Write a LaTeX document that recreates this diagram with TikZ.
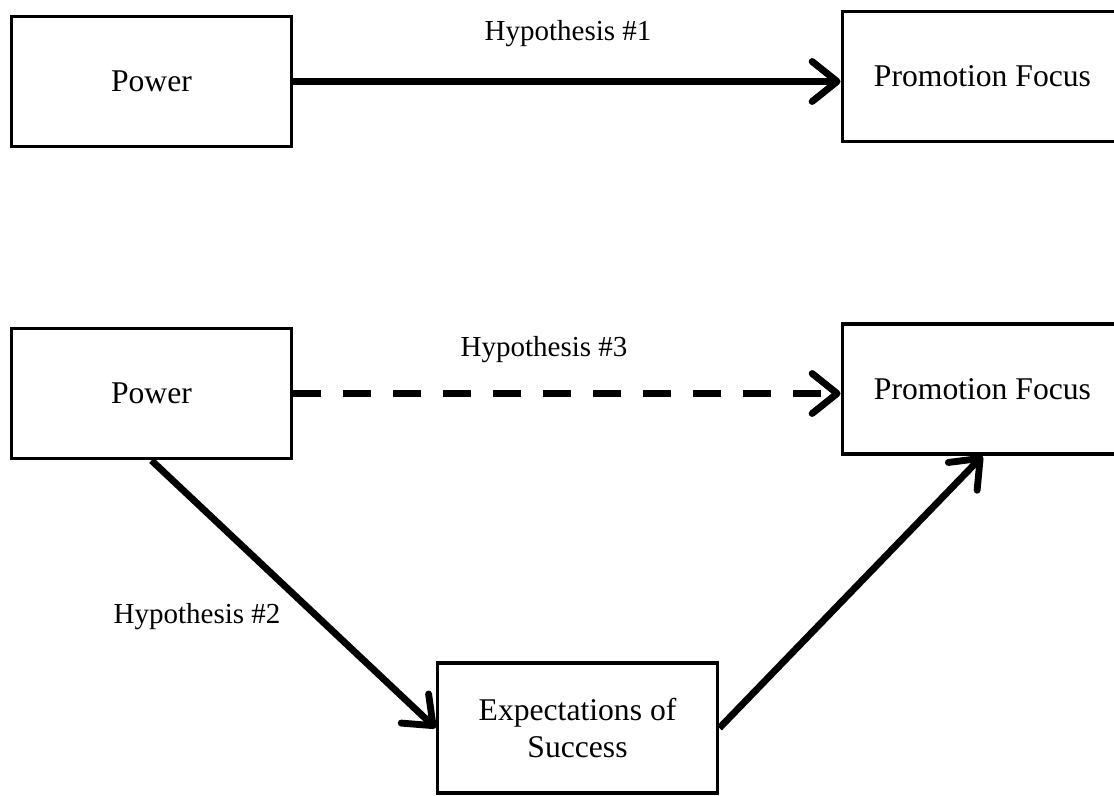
\documentclass[tikz,border=0pt]{standalone}
\usepackage{fontspec}
\setmainfont{Liberation Serif}
\usetikzlibrary{arrows.meta}

\begin{document}
\begin{tikzpicture}[
		box/.style={draw, line width=2.2pt, minimum width=5.6cm, minimum height=2.6cm,
			align=center, font=\fontsize{18}{21.5}\selectfont},
		hyp/.style={font=\fontsize{16.5}{20}\selectfont},
		link/.style={line width=3.9pt, -{Straight Barb[length=0.5cm, width=0.8cm, round]}}]
		\clip (0,0) rectangle (22.28,-15.9);
		\useasboundingbox (0,0) rectangle (22.28,-15.9);
		
		% Oben: direkter Effekt
		\node[box] (pow) at (3.03,-1.63) {Power};
		\node[box] (prom) at (19.65,-1.53) {Promotion Focus};
		\draw[link] (pow.east) -- (prom.west |- pow.east);
		\node[hyp] (h1) at (11.36,-0.68) {Hypothesis \#1};
		
		% Unten: Mediation
		\node[box] (pow2) at (3.03,-7.87) {Power};
		\node[box] (prom2) at (19.65,-7.78) {Promotion Focus};
		\node[box] (expect) at (11.55,-14.56) {Expectations of\\Success};
		
		\draw[link, dash pattern=on 0.56cm off 0.44cm] (pow2.east) -- (prom2.west |- pow2.east);
		\node[hyp] (h3) at (10.88,-7.0) {Hypothesis \#3};
		
		\draw[link] (pow2.south) -- (expect.west);
		\node[hyp] (h2) at (3.94,-12.34) {Hypothesis \#2};
		
		\draw[link] (expect.east) -- (prom2.south);
	\end{tikzpicture}
\end{document}
